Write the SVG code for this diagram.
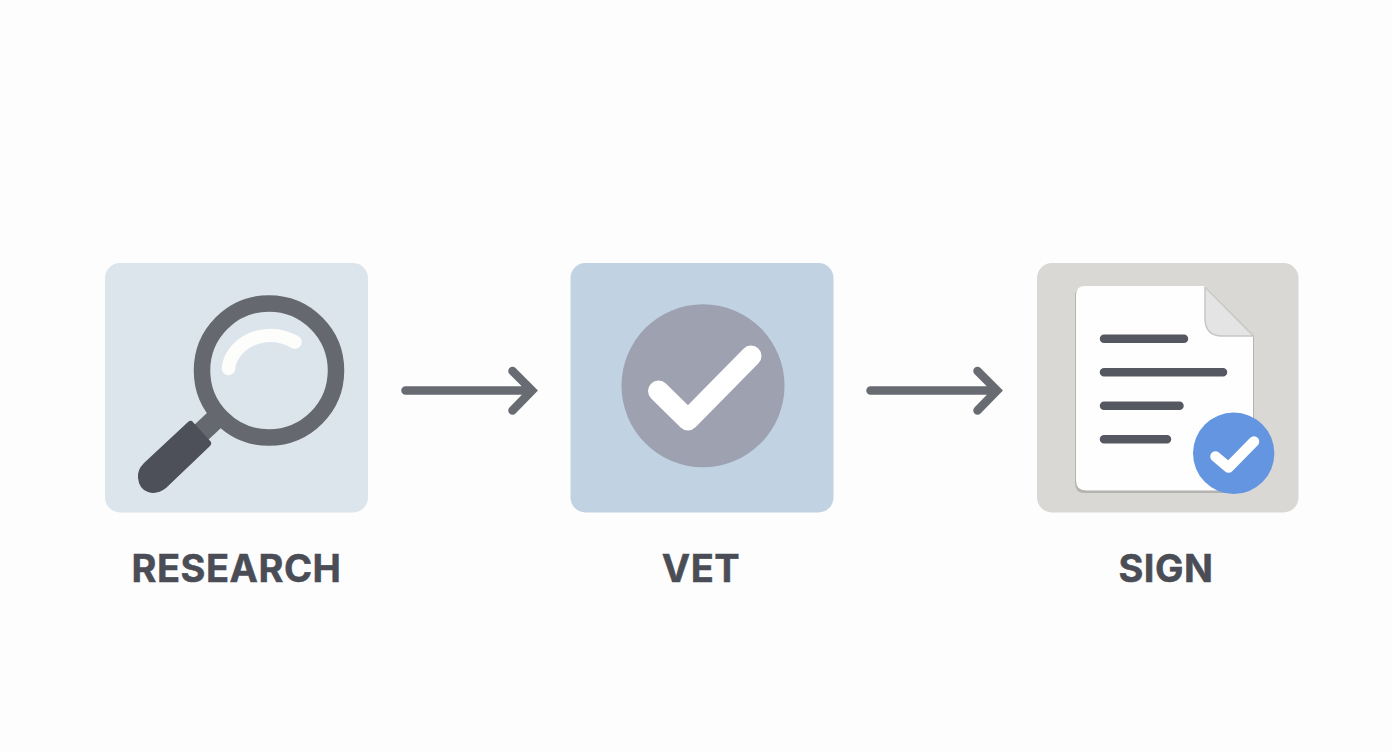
<svg xmlns="http://www.w3.org/2000/svg" width="1392" height="752" viewBox="0 0 1392 752">
<style>
.label{font-family:"Inter","Liberation Sans",sans-serif;font-weight:700;font-size:38px;letter-spacing:.5px;fill:#4a4d55;stroke:#4a4d55;stroke-width:.5px;text-anchor:middle}
.arrow{fill:none;stroke:#696b73;stroke-width:8.500px;stroke-linecap:round;stroke-linejoin:miter}
.docline{fill:none;stroke:#565861;stroke-width:8.5px;stroke-linecap:round}
.check{fill:none;stroke:#fff;stroke-linecap:round;stroke-linejoin:round}
</style>
<rect width="1392" height="752" fill="#fdfdfd"/>
<g id="connectors">
<path class="arrow" d="M405.500 390.500H530M512.500 371L532 390.500L512.500 410.500"/>
<path class="arrow" d="M870.500 390.500H995M977.500 371L997 390.500L977.500 410.500"/>
</g>
<g id="research">
<rect x="105" y="263" width="263" height="249.500" rx="15" fill="#dde5ec"/>
<path d="M208 412L222 427L206 442L192 427Z" fill="#66686f"/>
<circle cx="269" cy="370.500" r="67" fill="none" stroke="#66686f" stroke-width="16.500"/>
<path d="M228.500 368.500C230 346 262 324 295 342" fill="none" stroke="#fdfdfc" stroke-width="13.500" stroke-linecap="round"/>
<path d="M188 422Q190 420 192 421L211 442Q212 444 210 446L166 488Q157 495 148 492Q139 489 138 478Q137 470 144 463Z" fill="#4d5059"/>
<text class="label" x="236.500" y="581.500">RESEARCH</text>
</g>
<g id="vet">
<rect x="570.500" y="263" width="263" height="249.500" rx="15" fill="#c1d2e3"/>
<circle cx="703" cy="385.700" r="81.500" fill="#9da1b0"/>
<path class="check" stroke-width="21" d="M658.500 391L688 420L751 356"/>
<text class="label" x="701" y="581.500">VET</text>
</g>
<g id="sign">
<rect x="1037" y="263" width="261.500" height="249.500" rx="15" fill="#d9d8d5"/>
<path d="M1083 288H1205L1254 337V470L1225 493H1085Q1075 493 1075 483V296Q1075 288 1083 288Z" fill="#b3b3b0"/>
<path d="M1085 286H1205L1253 335V470L1225 490.500H1086Q1076 490.500 1076 480V295Q1076 286 1085 286Z" fill="#fefefe"/>
<path d="M1205 287L1253.500 336H1222Q1205 336 1205 318Z" fill="#e4e4e4" stroke="#c6c6c4" stroke-width="1.500" stroke-linejoin="round"/>
<path class="docline" d="M1104 338.700H1184M1104 372.300H1223M1104 405.700H1179.500M1104 439.300H1167"/>
<circle cx="1233.700" cy="453.300" r="40.700" fill="#6495e0"/>
<path class="check" stroke-width="10.500" d="M1215.500 456.500L1228.500 467.500L1254 441.500"/>
<text class="label" x="1166" y="581.500">SIGN</text>
</g>
</svg>
